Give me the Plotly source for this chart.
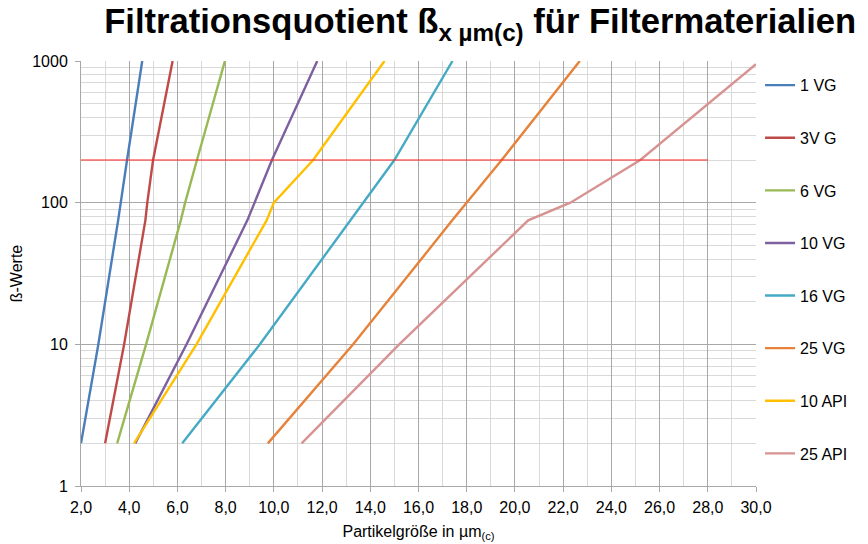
import plotly.graph_objects as go

beta_std = [2, 10, 75, 100, 200, 1000]

x_1vg = [2.0, 2.72, 3.54, 3.64, 3.91, 4.54]
x_3vg = [3.0, 3.79, 4.67, 4.75, 4.99, 5.8]
x_6vg = [3.5, 4.7, 6.14, 6.32, 6.81, 7.97]
x_10vg = [4.25, 6.38, 8.9, 9.2, 9.92, 11.8]
beta_16vg = [2, 10, 200, 1000]
x_16vg = [6.2, 9.42, 15.0, 17.41]
beta_25vg = [2, 10, 75, 200, 1000]
x_25vg = [9.75, 13.29, 17.4, 19.45, 22.69]
x_10api = [4.2, 6.79, 9.7, 10.0, 11.63, 14.59]
beta_25api = [2, 10, 75, 100, 200, 950]
x_25api = [11.15, 15.2, 20.55, 22.3, 25.2, 30.0]

ref_x = [2.0, 28.0]
ref_beta = [200, 200]

series = [
    ("1 VG", x_1vg, beta_std, "#4A7EBB"),
    ("3V G", x_3vg, beta_std, "#BE4B48"),
    ("6 VG", x_6vg, beta_std, "#98B954"),
    ("10 VG", x_10vg, beta_std, "#7D60A0"),
    ("16 VG", x_16vg, beta_16vg, "#46AAC5"),
    ("25 VG", x_25vg, beta_25vg, "#E6823A"),
    ("10 API", x_10api, beta_std, "#FFC000"),
    ("25 API", x_25api, beta_25api, "#D79391"),
]

x_ticks = list(range(2, 31, 2))
x_ticktext = [f"{v},0" for v in x_ticks]
y_ticks = [1, 10, 100, 1000]
y_ticktext = ["1", "10", "100", "1000"]

FONT = "Liberation Sans, Arial, sans-serif"

fig = go.Figure()
for i, (name, xs, ys, col) in enumerate(series):
    fig.add_trace(go.Scatter(x=xs, y=ys, mode="lines", name=name,
                             legendgroup=f"g{i}",
                             line=dict(color=col, width=2.4)))
fig.add_trace(go.Scatter(x=ref_x, y=ref_beta, mode="lines", showlegend=False,
                         line=dict(color="#FF2020", width=1.2)))

fig.update_layout(
    width=860, height=536,
    margin=dict(l=73, r=112, t=53, b=58, autoexpand=False),
    paper_bgcolor="white", plot_bgcolor="white",
    font=dict(family=FONT, size=16, color="black"),
    title=dict(text="Filtrationsquotient ß<sub>x µm(c)</sub> für Filtermaterialien",
               x=0.549, xanchor="center", y=0.998, yanchor="top", xref="container",
               yref="container", pad=dict(t=0),
               font=dict(family=FONT, size=34.6, color="black", weight="bold")),
    legend=dict(x=1.006, xanchor="left", y=0.983, yanchor="top",
                font=dict(size=16), tracegroupgap=28.8,
                bgcolor="rgba(0,0,0,0)", itemwidth=30),
    showlegend=True,
)
fig.update_xaxes(
    range=[2, 30], tickvals=x_ticks, ticktext=x_ticktext, automargin=False,
    showgrid=True, gridcolor="#A8A8A8", gridwidth=1,
    showline=True, linecolor="#A8A8A8", ticks="outside", ticklen=5, tickcolor="#A8A8A8",
    ticklabelstandoff=2,
    minor=dict(dtick=1, showgrid=True, gridcolor="#D9D9D9"),
    zeroline=False,
    title=dict(text="Partikelgröße in µm<sub>(c)</sub>", font=dict(size=16), standoff=10),
)
fig.update_yaxes(
    type="log", range=[0, 3], tickvals=y_ticks, ticktext=y_ticktext, automargin=False,
    showgrid=True, gridcolor="#A8A8A8", gridwidth=1,
    showline=True, linecolor="#A8A8A8", ticks="outside", ticklen=5, tickcolor="#A8A8A8",
    ticklabelstandoff=4,
    minor=dict(dtick="D1", showgrid=True, gridcolor="#D9D9D9"),
    zeroline=False,
    title=dict(text="ß-Werte", font=dict(size=16), standoff=21),
)

fig.write_html("out.html")
